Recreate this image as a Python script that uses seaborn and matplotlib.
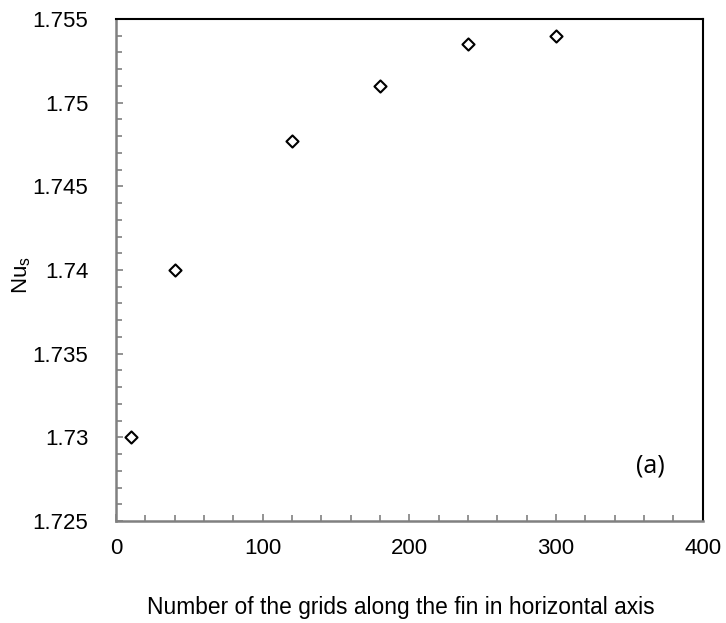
import matplotlib
matplotlib.use("Agg")
import matplotlib.pyplot as plt
from matplotlib.ticker import MultipleLocator
import numpy as np
import pandas as pd
import seaborn as sns

# grid-independence data
grids = [10, 40, 120, 180, 240, 300]
nu_s = [1.730, 1.740, 1.7477, 1.751, 1.7535, 1.754]

df = pd.DataFrame({"grids": grids, "Nu_s": nu_s})

sns.set_theme(style="white", rc={"text.color": "black", "axes.labelcolor": "black",
                                 "xtick.color": "black", "ytick.color": "black"})
plt.rcParams['font.family'] = ['Liberation Sans', 'DejaVu Sans']

fig = plt.figure(figsize=(7.26, 6.23), dpi=100)
ax = fig.add_axes([0.16, 0.1637, 0.808, 0.8058])

sns.scatterplot(data=df, x="grids", y="Nu_s", ax=ax, marker="D", s=38,
                facecolor="white", edgecolor="black", linewidth=1.5, zorder=3)

ax.set_xlim(0, 400)
ax.set_ylim(1.725, 1.755)
ax.xaxis.set_major_locator(MultipleLocator(100))
ax.xaxis.set_minor_locator(MultipleLocator(20))
ax.yaxis.set_major_locator(MultipleLocator(0.005))
ax.yaxis.set_minor_locator(MultipleLocator(0.001))
ax.yaxis.set_major_formatter(plt.FuncFormatter(lambda v, p: f"{v:.3f}".rstrip("0")))

ax.tick_params(which="both", direction="in", left=True, bottom=True,
               color="#808080", width=1.2, labelcolor="black")
ax.tick_params(which="major", length=5, labelsize=16)
ax.tick_params(which="minor", length=4)
ax.tick_params(axis="y", pad=20)
ax.tick_params(axis="x", pad=12)

for side in ["left", "bottom"]:
    ax.spines[side].set_color("#808080")
    ax.spines[side].set_linewidth(1.8)
for side in ["top", "right"]:
    ax.spines[side].set_color("black")
    ax.spines[side].set_linewidth(1.5)

ax.set_xlabel("Number of the grids along the fin in horizontal axis",
              fontsize=16.4, labelpad=27, color="black")
ax.xaxis.label.set_x(0.485)
ax.set_ylabel("Nu$_\\mathregular{s}$", fontsize=16, labelpad=0, color="black")
ax.yaxis.label.set_y(0.49)

ax.text(364, 1.7283, "(a)", fontsize=18, family=["Open Sans", "DejaVu Sans"],
        ha="center", va="center", color="black")

fig.savefig("out.png", dpi=100)
